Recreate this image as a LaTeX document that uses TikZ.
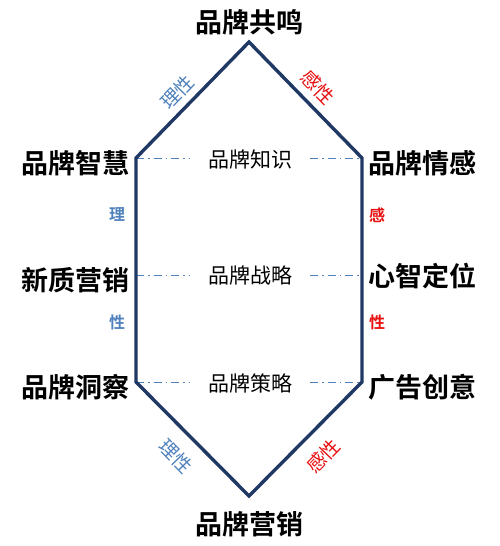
\documentclass[tikz,border=0pt]{standalone}
\usepackage{fontspec}
\newfontfamily\cjk{Noto Sans CJK SC}
\newfontfamily\cjkb{Noto Sans CJK SC Bold}
\definecolor{navy}{HTML}{1F3864}
\definecolor{lblue}{HTML}{4F81BD}
\definecolor{lred}{HTML}{E81010}
\begin{document}
\begin{tikzpicture}[x=1pt,y=-1pt,
  outer/.style={font=\cjkb\fontsize{27}{27}\selectfont, inner sep=0pt},
  mid/.style={font=\cjk\fontsize{21}{21}\selectfont, inner ysep=0pt, inner xsep=18pt},
  side/.style={font=\cjk\fontsize{19}{19}\selectfont, inner sep=0pt},
  vside/.style={font=\cjkb\fontsize{16}{16}\selectfont, inner sep=0pt},
  dd/.style={lblue, line width=1pt, dash pattern=on 8pt off 4pt on 1.5pt off 4pt},
  hexline/.style={navy, line width=3.4pt, line join=miter}]
\useasboundingbox (0,0) rectangle (500,546);
\coordinate (T) at (249,42);
\coordinate (UL) at (136,158);
\coordinate (UR) at (362,158);
\coordinate (ML) at (136,275);
\coordinate (MR) at (362,275);
\coordinate (LL) at (136,382);
\coordinate (LR) at (362,382);
\coordinate (B) at (249,496);
\node[mid] (m1) at (250,160) {品牌知识};
\node[mid] (m2) at (250,275) {品牌战略};
\node[mid] (m3) at (250,383) {品牌策略};
\draw[dd] (UL) -- (m1.west |- UL); \draw[dd] (m1.east |- UR) -- (UR);
\draw[dd] (ML) -- (m2.west |- ML); \draw[dd] (m2.east |- MR) -- (MR);
\draw[dd] (LL) -- (m3.west |- LL); \draw[dd] (m3.east |- LR) -- (LR);
\draw[hexline] (T) -- (UR) -- (LR) -- (B) -- (LL) -- (UL) -- cycle;
\node[outer] (top) at (249,22) {品牌共鸣};
\node[outer] (bot) at (249,524) {品牌营销};
\node[outer] (l1) at (75,163) {品牌智慧};
\node[outer] (l2) at (75,280) {新质营销};
\node[outer] (l3) at (75,387) {品牌洞察};
\node[outer] (r1) at (422,163) {品牌情感};
\node[outer] (r2) at (422,276) {心智定位};
\node[outer] (r3) at (422,387) {广告创意};
\node[side, lblue, rotate=46] (a1) at (177,92) {理性};
\node[side, lred, rotate=-46] (a2) at (318,87) {感性};
\node[side, lblue, rotate=-46] (a3) at (176,456) {理性};
\node[side, lred, rotate=46] (a4) at (323,456) {感性};
\node[vside, lblue] (s1) at (117,215) {理};
\node[vside, lblue] (s2) at (117,322) {性};
\node[vside, lred] (s3) at (377,215) {感};
\node[vside, lred] (s4) at (377,322) {性};
\end{tikzpicture}
\end{document}
